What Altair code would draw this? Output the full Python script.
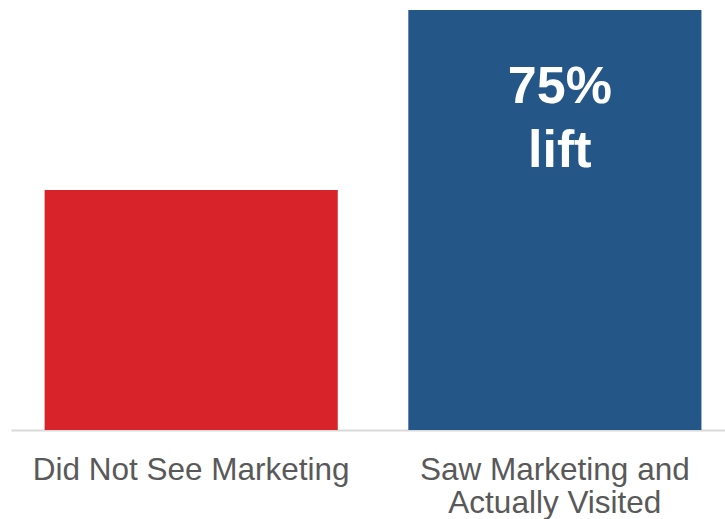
import altair as alt
import pandas as pd

# Data
categories = ["Did Not See Marketing", "Saw Marketing and Actually Visited"]
values = [1.0, 1.75]
bar_colors = ["#D8232A", "#245688"]
label_lines = {"Saw Marketing and Actually Visited": ["Saw Marketing and", "Actually Visited"]}
lift_text = "75%\nlift"

df = pd.DataFrame({"category": categories, "value": values, "color": bar_colors})
ann = pd.DataFrame({"category": [categories[1]], "value": [values[1]], "text": [lift_text]})

# build label expression for multi-line axis labels
expr = "datum.label"
for k, v in label_lines.items():
    arr = "[" + ", ".join("'" + s + "'" for s in v) + "]"
    expr = f"datum.value == '{k}' ? {arr} : {expr}"

x_scale = alt.Scale(paddingInner=0.194, paddingOuter=0.0786, align=0.588)
y_scale = alt.Scale(domain=[0, 1.75], nice=False, zero=True)

x_axis = alt.Axis(
    labelAngle=0,
    ticks=False,
    tickSize=0,
    grid=False,
    domainColor="#D9D9D9",
    domainWidth=2,
    labelFont="Liberation Sans",
    labelFontSize=31.5,
    labelColor="#595959",
    labelPadding=24,
    labelLineHeight=33,
    labelLimit=0,
    labelOverlap=False,
    labelExpr=expr,
)

bars = alt.Chart(df).mark_bar().encode(
    x=alt.X("category:N", sort=categories, title=None, scale=x_scale, axis=x_axis),
    y=alt.Y("value:Q", axis=None, scale=y_scale),
    color=alt.Color("color:N", scale=None),
)

text = alt.Chart(ann).mark_text(
    font="Liberation Sans",
    fontSize=52,
    fontWeight="bold",
    color="white",
    align="center",
    baseline="top",
    lineBreak="\n",
    lineHeight=64,
    dy=52,
    dx=5,
).encode(
    x=alt.X("category:N", sort=categories, title=None, scale=x_scale, axis=x_axis),
    y=alt.Y("value:Q", axis=None, scale=y_scale),
    text="text:N",
)

chart = (
    alt.layer(bars, text)
    .properties(
        width=714,
        height=420,
        background="white",
        autosize=alt.AutoSizeParams(type="none"),
        padding={"left": 11, "top": 10, "right": 0, "bottom": 89},
    )
    .configure_view(strokeWidth=0, stroke="transparent")
)

chart.save("out.html", embed_options={"renderer": "svg", "actions": False})
